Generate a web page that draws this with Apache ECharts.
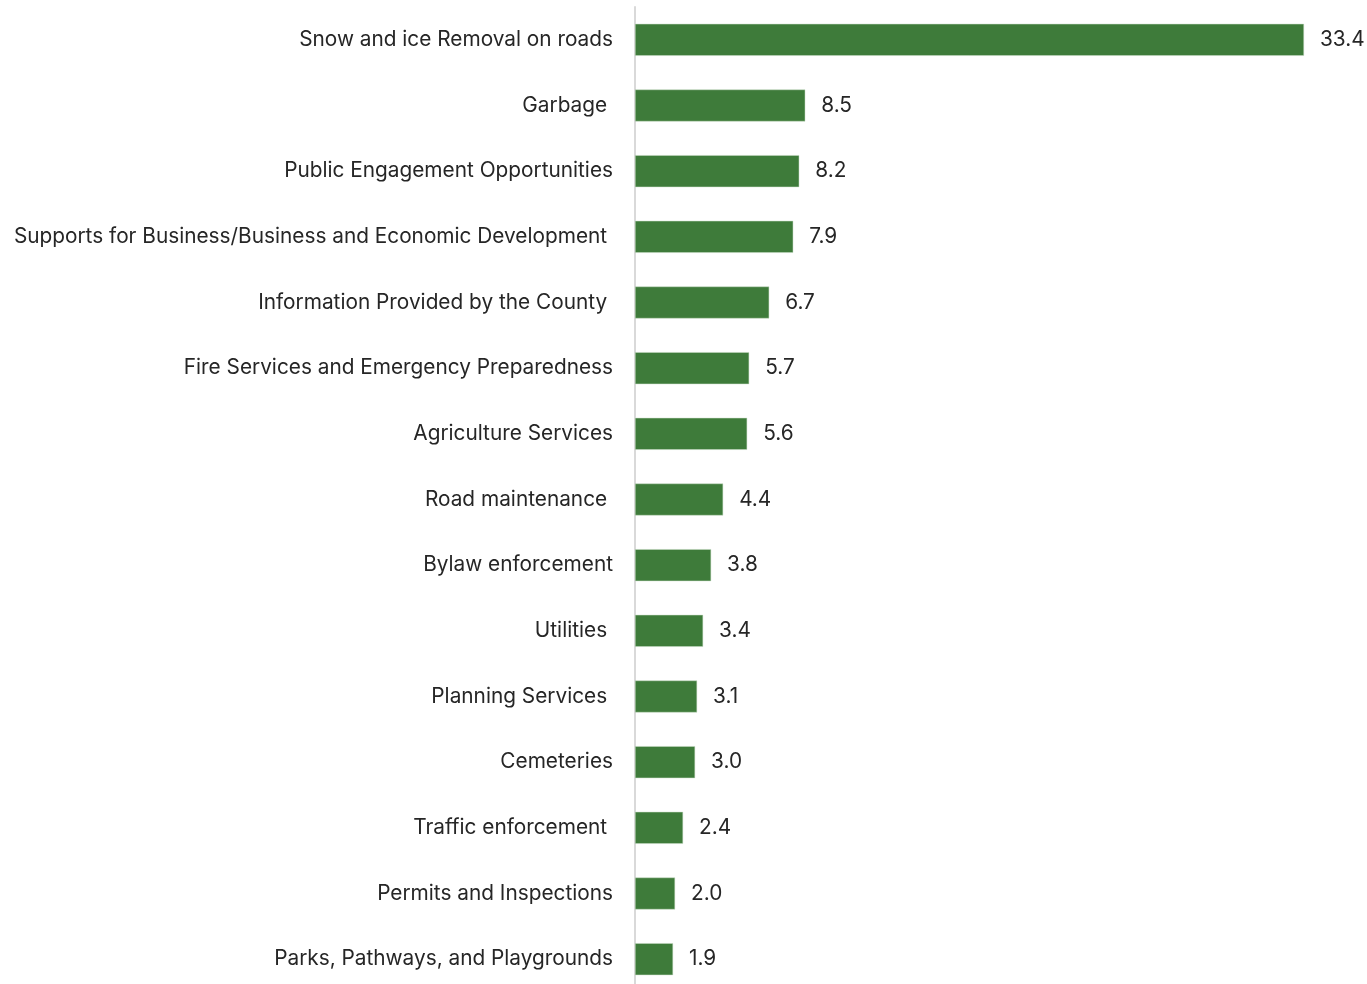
<!DOCTYPE html>
<html>
<head>
<meta charset="utf-8">
<script src="https://cdn.jsdelivr.net/npm/echarts@6/dist/echarts.min.js"></script>
<style>
  html, body { margin: 0; padding: 0; background: #ffffff; overflow: hidden; }
  #chart { width: 1367px; height: 992px; }
</style>
</head>
<body>
<div id="chart"></div>
<script>
// Service areas, top to bottom (some names carry a trailing space from the source table)
const categories = [
  'Snow and ice Removal on roads',
  'Garbage ',
  'Public Engagement Opportunities',
  'Supports for Business/Business and Economic Development ',
  'Information Provided by the County ',
  'Fire Services and Emergency Preparedness',
  'Agriculture Services',
  'Road maintenance ',
  'Bylaw enforcement',
  'Utilities ',
  'Planning Services ',
  'Cemeteries',
  'Traffic enforcement ',
  'Permits and Inspections',
  'Parks, Pathways, and Playgrounds'
];
const values = [33.4, 8.5, 8.2, 7.9, 6.7, 5.7, 5.6, 4.4, 3.8, 3.4, 3.1, 3.0, 2.4, 2.0, 1.9];

const FONT = 'Inter, "Open Sans", sans-serif';
const chart = echarts.init(document.getElementById('chart'), null, { renderer: 'canvas' });

chart.setOption({
  animation: false,
  backgroundColor: '#ffffff',
  // the plot runs a little past the bottom of the visible page
  grid: { left: 635, top: 7, width: 669, height: 985, containLabel: false },
  xAxis: {
    type: 'value',
    min: 0,
    max: 33.4,
    show: false
  },
  yAxis: {
    type: 'category',
    inverse: true,
    data: categories,
    axisLine: { show: true, lineStyle: { color: '#d9d9d9', width: 2 } },
    axisTick: { show: false },
    splitLine: { show: false },
    axisLabel: {
      margin: 22,
      color: '#262626',
      fontSize: 20.8,
      fontFamily: FONT,
      padding: [6, 0, 0, 0]
    }
  },
  series: [{
    type: 'bar',
    data: values,
    barWidth: 32,
    itemStyle: { color: '#3e7b3a', borderColor: '#c8dcc6', borderWidth: 0.5 },
    label: {
      show: true,
      position: 'right',
      distance: 16,
      color: '#262626',
      fontSize: 20.8,
      fontFamily: FONT,
      padding: [6, 0, 0, 0],
      formatter: p => p.value.toFixed(1)
    }
  }]
});
</script>
</body>
</html>
